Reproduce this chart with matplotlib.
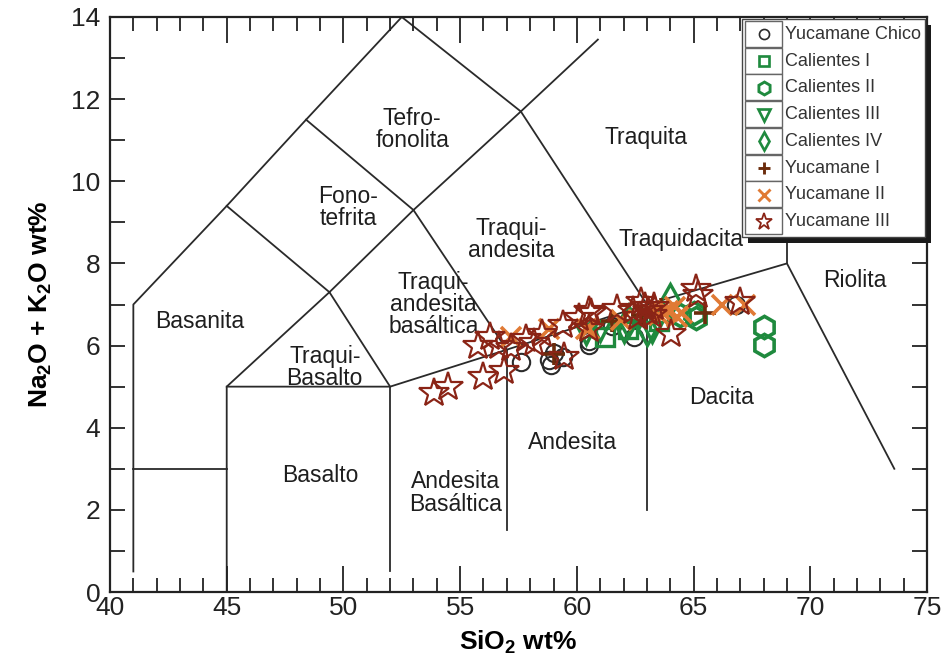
import matplotlib
matplotlib.use("Agg")
import matplotlib.pyplot as plt
from matplotlib.patches import Rectangle
from matplotlib.ticker import MultipleLocator

plt.rcParams['font.family'] = ['Liberation Sans', 'DejaVu Sans']
plt.rcParams['mathtext.fontset'] = 'custom'
plt.rcParams['mathtext.rm'] = 'Liberation Sans:bold'
plt.rcParams['mathtext.default'] = 'rm'

# ---------------- data ----------------
yc_chico_x = [57.6, 58.8, 58.9, 59.0, 59.4, 60.5, 60.5, 61.5, 62.45, 66.8]
yc_chico_y = [5.60, 5.66, 5.53, 5.83, 5.73, 6.10, 6.02, 6.47, 6.22, 7.00]

cal1_x = [61.2, 62.2, 63.5]
cal1_y = [6.22, 6.40, 6.60]

cal2_x = [68.0, 68.0, 65.0, 65.1, 64.4]
cal2_y = [6.46, 6.02, 6.80, 6.68, 6.75]

cal3_x = [60.4, 62.0, 63.2, 61.0]
cal3_y = [6.27, 6.32, 6.34, 6.35]

cal4_x = [64.0, 63.0, 62.2]
cal4_y = [7.10, 6.40, 6.60]

yuc1_x = [59.0, 61.5, 62.8, 63.6, 65.5]
yuc1_y = [5.80, 6.60, 6.75, 6.90, 6.80]

yuc2_x = [58.8, 60.5, 60.4, 61.9, 63.7, 64.2, 64.3, 66.2, 67.2, 57.2, 63.9, 64.5, 63.5]
yuc2_y = [6.40, 6.40, 6.40, 6.63, 6.80, 6.95, 6.70, 7.00, 7.00, 6.20, 6.85, 6.80, 6.75]

yuc3_x = [53.86, 54.46, 55.97, 56.87, 55.75, 56.30, 56.65, 57.17, 57.80, 58.15,
          58.50, 59.40, 59.44, 60.10, 60.50, 60.60, 61.70, 62.75, 63.05, 63.30,
          64.03, 65.10, 65.20, 67.00, 60.50, 62.40, 62.90, 62.60, 63.20]
yuc3_y = [4.85, 5.00, 5.24, 5.37, 5.98, 6.20, 5.98, 5.95, 6.15, 6.07,
          6.27, 6.50, 5.73, 6.68, 6.83, 6.80, 6.90, 7.05, 6.83, 6.95,
          6.27, 7.37, 7.24, 7.05, 6.40, 6.85, 6.95, 6.70, 6.75]

# TAS field boundaries
boundaries = [
    [(41, 0.5), (41, 7), (45, 9.4), (48.4, 11.5), (52.5, 14)],
    [(41, 3), (45, 3)],
    [(45, 0), (45, 5), (49.4, 7.3), (53, 9.3), (57.6, 11.7), (60.9, 13.45)],
    [(45, 5), (52, 5), (57, 5.9), (63, 7), (69, 8), (73.6, 3)],
    [(69, 8), (69, 13)],
    [(52, 0.5), (52, 5)],
    [(57, 1.5), (57, 5.9)],
    [(63, 2), (63, 7)],
    [(49.4, 7.3), (52, 5)],
    [(53, 9.3), (57, 5.9)],
    [(57.6, 11.7), (63, 7)],
    [(45, 9.4), (49.4, 7.3)],
    [(48.4, 11.5), (53, 9.3)],
    [(52.5, 14), (57.6, 11.7)],
]

field_names = ["Tefro-\nfonolita", "Traquita", "Fono-\ntefrita", "Traqui-\nandesita",
               "Traquidacita", "Riolita", "Basanita", "Traqui-\nandesita\nbasáltica",
               "Traqui-\nBasalto", "Dacita", "Andesita", "Basalto", "Andesita\nBasáltica"]
field_x = [52.95, 62.95, 50.2, 57.2, 64.45, 71.9, 43.85, 53.85, 49.2, 66.2, 59.8, 49.0, 54.8]
field_y = [11.27, 11.07, 9.37, 8.59, 8.59, 7.59, 6.59, 7.0, 5.46, 4.73, 3.63, 2.83, 2.41]

# ---------------- figure ----------------
fig = plt.figure(figsize=(9.43, 6.66), dpi=100)
L, R, T, B = 110, 927, 17, 592
ax = fig.add_axes([L / 943, 1 - B / 666, (R - L) / 943, (B - T) / 666])
ax.set_xlim(40, 75)
ax.set_ylim(0, 14)

for seg in boundaries:
    xs = [p[0] for p in seg]
    ys = [p[1] for p in seg]
    ax.plot(xs, ys, color='#2a2a2a', lw=1.3, zorder=1)

for name, x, y in zip(field_names, field_x, field_y):
    ax.text(x, y, name, ha='center', va='center', fontsize=16.5, color='#1e1e1e',
            linespacing=0.95, zorder=2)

green = '#1f8a3e'
series = [
    ("Yucamane Chico", yc_chico_x, yc_chico_y, dict(marker='o', ms=12.5, mfc='none', mec='#2b2b2b', mew=1.5)),
    ("Calientes I", cal1_x, cal1_y, dict(marker='s', ms=13, mfc='none', mec=green, mew=2.4)),
    ("Calientes II", cal2_x, cal2_y, dict(marker='h', ms=16, mfc='none', mec=green, mew=2.6)),
    ("Calientes III", cal3_x, cal3_y, dict(marker='v', ms=15, mfc='none', mec=green, mew=2.4)),
    ("Calientes IV", cal4_x, cal4_y, dict(marker='d', ms=16, mfc='none', mec=green, mew=2.4)),
    ("Yucamane I", yuc1_x, yuc1_y, dict(marker='+', ms=16, mec='#6b2c0c', mew=2.6)),
    ("Yucamane II", yuc2_x, yuc2_y, dict(marker='x', ms=14, mec='#e07a35', mew=2.6)),
    ("Yucamane III", yuc3_x, yuc3_y, dict(marker='*', ms=22, mfc='none', mec='#8a2416', mew=1.6)),
]
for i, (lab, xs, ys, st) in enumerate(series):
    ax.plot(xs, ys, ls='none', zorder=3 + i, **st)

# ticks
ax.xaxis.set_major_locator(MultipleLocator(5))
ax.xaxis.set_minor_locator(MultipleLocator(1))
ax.yaxis.set_major_locator(MultipleLocator(2))
ax.yaxis.set_minor_locator(MultipleLocator(1))
ax.tick_params(axis='x', which='major', direction='in', length=19, width=1.3,
               top=True, labelsize=19, pad=3)
ax.tick_params(axis='x', which='minor', direction='in', length=10, width=1.3, top=True)
ax.tick_params(axis='y', which='both', direction='in', length=11, width=1.3,
               right=True, labelsize=19, pad=7)
for s in ax.spines.values():
    s.set_linewidth(1.6)
    s.set_color('#222222')
ax.tick_params(colors='#222222', which='both')

ax.set_xlabel(r"SiO$_2$ wt%", fontsize=19, fontweight='bold', labelpad=6)
ax.set_ylabel(r"Na$_2$O + K$_2$O wt%", fontsize=19, fontweight='bold', labelpad=12)

# ---------------- legend (manual, boxed cells) ----------------
def fx(px):
    return (px - L) / (R - L)

def fy(py):
    return (B - py) / (B - T)

lx0, lx1, ly0, ly1 = 742, 925, 19, 237
tr = ax.transAxes
shadow = Rectangle((fx(lx0 + 6), fy(ly1 + 6)), fx(lx1) - fx(lx0), fy(ly0) - fy(ly1),
                   transform=tr, facecolor='#1a1a1a', edgecolor='none', zorder=20, clip_on=False)
ax.add_patch(shadow)
box = Rectangle((fx(lx0), fy(ly1)), fx(lx1) - fx(lx0), fy(ly0) - fy(ly1),
                transform=tr, facecolor='white', edgecolor='#444444', lw=1.0, zorder=21, clip_on=False)
ax.add_patch(box)
row_h = (ly1 - ly0 - 4) / len(series)
for i, (lab, xs, ys, st) in enumerate(series):
    top = ly0 + 2 + i * row_h
    cell = Rectangle((fx(745), fy(top + row_h - 1)), fx(782) - fx(745), fy(top) - fy(top + row_h - 1),
                     transform=tr, facecolor='white', edgecolor='#666666', lw=1.0, zorder=22)
    ax.add_patch(cell)
    st2 = dict(st)
    st2['ms'] = st2['ms'] * 0.58
    st2['mew'] = st2['mew'] * 0.8
    ax.plot([fx(763.5)], [fy(top + row_h / 2)], transform=tr, ls='none', zorder=23,
            clip_on=False, **st2)
    ax.text(fx(785), fy(top + row_h / 2), lab, transform=tr, fontsize=13, color='#333333',
            ha='left', va='center', zorder=23)

fig.savefig("out.png", dpi=100)
